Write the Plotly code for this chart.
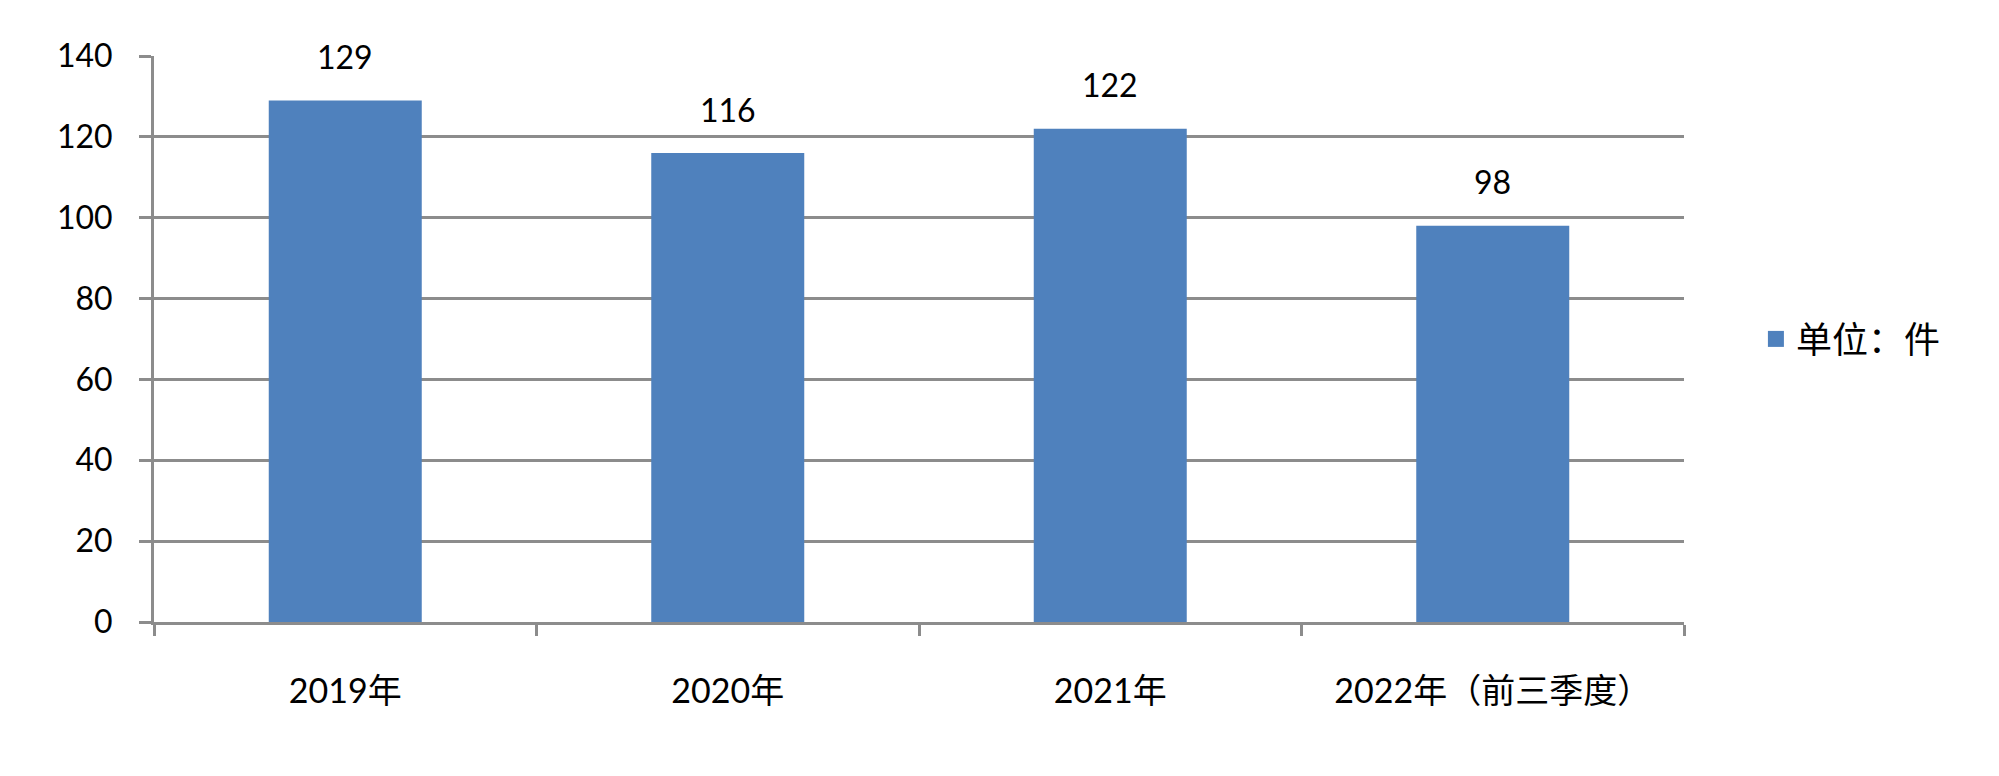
import plotly.graph_objects as go

categories = ["2019年", "2020年", "2021年", "2022年（前三季度）"]
values = [129, 116, 122, 98]
series_name = "单位：件"
y_ticks = [0, 20, 40, 60, 80, 100, 120, 140]

FONT = "Lato, 'Noto Sans CJK SC', sans-serif"
GRID = "#8C8C8C"
BAR = "#4F81BD"

fig = go.Figure()
fig.add_trace(go.Bar(
    x=categories, y=values, name=series_name,
    marker=dict(color=BAR, line=dict(width=0)),
    showlegend=False, legendgroup="s",
))
# legend entry with a larger square swatch
fig.add_trace(go.Scatter(
    x=[None], y=[None], mode="markers", name=series_name, legendgroup="s",
    marker=dict(symbol="square", size=21, color=BAR),
    showlegend=True, hoverinfo="skip",
))

for c, v in zip(categories, values):
    fig.add_annotation(x=c, y=v, text=str(v), showarrow=False,
                       yshift=44, yanchor="middle",
                       font=dict(family=FONT, size=32, color="#000000"))

fig.update_layout(
    width=1999, height=776,
    margin=dict(l=146, r=323, t=48, b=162),
    paper_bgcolor="white", plot_bgcolor="white",
    bargap=0.6,
    font=dict(family=FONT, size=32, color="#000000"),
    showlegend=True,
    legend=dict(x=1.047, y=0.5, xanchor="left", yanchor="middle",
                font=dict(family=FONT, size=36, color="#000000"),
                bgcolor="rgba(0,0,0,0)"),
)
fig.update_xaxes(
    type="category", tickson="boundaries", ticks="outside", ticklen=11,
    tickwidth=3, tickcolor=GRID, showline=True, linecolor=GRID, linewidth=3,
    showgrid=False, ticklabelstandoff=37,
    tickfont=dict(family=FONT, size=34, color="#000000"),
)
fig.update_yaxes(
    range=[0, 140], tickvals=y_ticks, ticks="outside", ticklen=12,
    tickwidth=3, tickcolor=GRID, showline=True, linecolor=GRID, linewidth=3,
    showgrid=True, gridcolor=GRID, gridwidth=3, zeroline=False,
    ticklabelstandoff=20,
    tickfont=dict(family=FONT, size=32, color="#000000"),
)

fig.write_html("out.html")
